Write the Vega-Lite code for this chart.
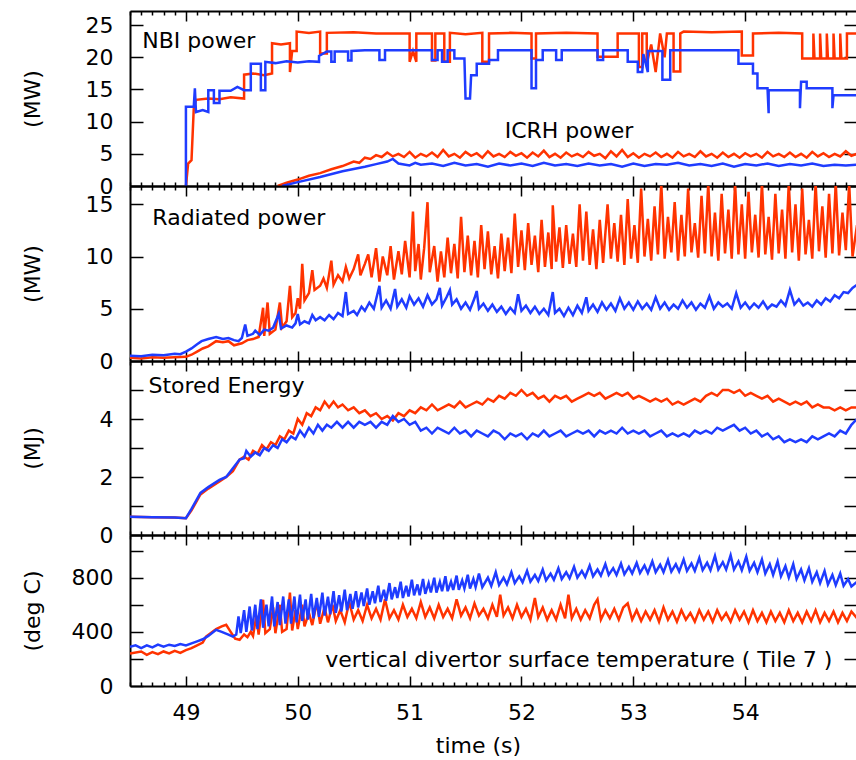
{
"$schema": "https://vega.github.io/schema/vega-lite/v6.json",
"padding": {"left": 21, "top": 10, "right": 0, "bottom": 0},
"bounds": "flush",
"spacing": 0,
"datasets": {
"n1r": [{"t":49.0,"v":0},{"t":49.02,"v":3.5},{"t":49.05,"v":4.0},{"t":49.07,"v":12},{"t":49.09,"v":13.4},{"t":49.2,"v":13.6},{"t":49.3,"v":13.5},{"t":49.4,"v":13.8},{"t":49.52,"v":13.6},{"t":49.52,"v":17.3},{"t":49.6,"v":17.5},{"t":49.7,"v":17.2},{"t":49.77,"v":17.5},{"t":49.77,"v":22.2},{"t":49.85,"v":22.0},{"t":49.93,"v":22.2},{"t":49.93,"v":17.7},{"t":49.95,"v":21.0},{"t":49.99,"v":21.0},{"t":49.99,"v":24.0},{"t":50.1,"v":23.8},{"t":50.2,"v":24.0},{"t":50.2,"v":20.6},{"t":50.26,"v":20.6},{"t":50.26,"v":23.8},{"t":50.5,"v":23.9},{"t":50.7,"v":23.7},{"t":51.0,"v":23.7},{"t":51.0,"v":19.3},{"t":51.03,"v":21.0},{"t":51.06,"v":19.3},{"t":51.06,"v":23.7},{"t":51.2,"v":23.7},{"t":51.2,"v":19.5},{"t":51.23,"v":19.5},{"t":51.23,"v":23.7},{"t":51.31,"v":23.7},{"t":51.31,"v":19.3},{"t":51.36,"v":19.3},{"t":51.36,"v":23.8},{"t":51.5,"v":23.6},{"t":51.65,"v":23.8},{"t":51.65,"v":19.3},{"t":51.71,"v":19.3},{"t":51.71,"v":23.7},{"t":51.9,"v":23.8},{"t":52.09,"v":23.7},{"t":52.09,"v":19.8},{"t":52.13,"v":19.8},{"t":52.13,"v":23.7},{"t":52.4,"v":23.8},{"t":52.68,"v":23.7},{"t":52.68,"v":20.1},{"t":52.86,"v":20.1},{"t":52.86,"v":23.7},{"t":53.05,"v":23.7},{"t":53.05,"v":18.5},{"t":53.08,"v":18.5},{"t":53.08,"v":23.7},{"t":53.12,"v":23.7},{"t":53.12,"v":19.0},{"t":53.16,"v":22},{"t":53.2,"v":17.7},{"t":53.24,"v":23.7},{"t":53.28,"v":20},{"t":53.3,"v":23.7},{"t":53.36,"v":23.7},{"t":53.36,"v":17.8},{"t":53.42,"v":17.8},{"t":53.42,"v":23.7},{"t":53.45,"v":24.0},{"t":53.7,"v":23.9},{"t":53.97,"v":24.0},{"t":53.97,"v":20.3},{"t":54.07,"v":20.3},{"t":54.07,"v":23.7},{"t":54.3,"v":23.8},{"t":54.51,"v":23.7},{"t":54.51,"v":19.8},{"t":54.61,"v":19.8},{"t":54.61,"v":23.7},{"t":54.62,"v":19.8},{"t":54.67,"v":19.8},{"t":54.67,"v":23.7},{"t":54.68,"v":19.8},{"t":54.73,"v":19.8},{"t":54.73,"v":23.7},{"t":54.74,"v":19.8},{"t":54.79,"v":19.8},{"t":54.79,"v":23.7},{"t":54.8,"v":19.8},{"t":54.85,"v":19.8},{"t":54.85,"v":23.7},{"t":54.86,"v":19.8},{"t":54.91,"v":19.8},{"t":54.91,"v":23.7},{"t":55.0,"v":23.7}],
"n1b": [{"t":49.0,"v":0},{"t":49.0,"v":12.3},{"t":49.07,"v":12.3},{"t":49.08,"v":15.2},{"t":49.09,"v":11.5},{"t":49.15,"v":11.8},{"t":49.2,"v":11.5},{"t":49.2,"v":14.9},{"t":49.25,"v":14.9},{"t":49.25,"v":12.9},{"t":49.3,"v":12.9},{"t":49.3,"v":14.8},{"t":49.4,"v":14.8},{"t":49.46,"v":15.4},{"t":49.52,"v":14.9},{"t":49.58,"v":14.9},{"t":49.58,"v":19.0},{"t":49.67,"v":19.0},{"t":49.67,"v":14.9},{"t":49.71,"v":14.9},{"t":49.71,"v":19.3},{"t":49.8,"v":19.1},{"t":49.9,"v":19.4},{"t":50.0,"v":19.2},{"t":50.1,"v":19.4},{"t":50.19,"v":19.3},{"t":50.19,"v":20.2},{"t":50.26,"v":20.9},{"t":50.3,"v":20.9},{"t":50.3,"v":19.3},{"t":50.33,"v":19.3},{"t":50.33,"v":20.9},{"t":50.45,"v":20.9},{"t":50.45,"v":19.5},{"t":50.48,"v":19.5},{"t":50.48,"v":21.0},{"t":50.6,"v":21.1},{"t":50.73,"v":21.1},{"t":50.73,"v":19.6},{"t":50.78,"v":19.6},{"t":50.78,"v":21.1},{"t":51.0,"v":21.1},{"t":51.2,"v":21.1},{"t":51.2,"v":19.6},{"t":51.25,"v":19.6},{"t":51.25,"v":21.1},{"t":51.29,"v":21.1},{"t":51.29,"v":19.3},{"t":51.34,"v":19.3},{"t":51.34,"v":21.1},{"t":51.4,"v":21.1},{"t":51.4,"v":19.8},{"t":51.49,"v":19.8},{"t":51.5,"v":13.6},{"t":51.54,"v":13.6},{"t":51.55,"v":17.2},{"t":51.6,"v":17.2},{"t":51.6,"v":19.0},{"t":51.71,"v":19.0},{"t":51.71,"v":19.6},{"t":51.79,"v":19.6},{"t":51.79,"v":21.1},{"t":52.0,"v":21.1},{"t":52.09,"v":21.1},{"t":52.09,"v":15.2},{"t":52.13,"v":15.2},{"t":52.13,"v":19.6},{"t":52.19,"v":19.6},{"t":52.19,"v":21.1},{"t":52.31,"v":21.1},{"t":52.31,"v":19.6},{"t":52.36,"v":19.6},{"t":52.36,"v":21.1},{"t":52.68,"v":21.1},{"t":52.68,"v":19.6},{"t":52.73,"v":19.6},{"t":52.73,"v":21.1},{"t":52.95,"v":21.1},{"t":52.95,"v":19.3},{"t":53.04,"v":19.3},{"t":53.04,"v":17.7},{"t":53.08,"v":17.7},{"t":53.09,"v":20.5},{"t":53.13,"v":17.7},{"t":53.13,"v":21.0},{"t":53.26,"v":21.0},{"t":53.26,"v":16.5},{"t":53.33,"v":16.5},{"t":53.33,"v":21.1},{"t":53.6,"v":21.1},{"t":53.94,"v":21.1},{"t":53.94,"v":19.0},{"t":54.07,"v":19.0},{"t":54.07,"v":17.5},{"t":54.11,"v":17.5},{"t":54.11,"v":15.2},{"t":54.2,"v":15.2},{"t":54.21,"v":11.3},{"t":54.21,"v":14.9},{"t":54.35,"v":14.9},{"t":54.49,"v":14.9},{"t":54.49,"v":12.1},{"t":54.5,"v":16.2},{"t":54.55,"v":16.2},{"t":54.55,"v":15.2},{"t":54.78,"v":15.2},{"t":54.78,"v":12.1},{"t":54.79,"v":14.1},{"t":54.98,"v":14.1},{"t":55.0,"v":14.1}],
"i1r": [{"t":49.82,"v":0},{"t":49.9,"v":0.5},{"t":50.0,"v":1.0},{"t":50.1,"v":1.6},{"t":50.2,"v":2.0},{"t":50.3,"v":2.6},{"t":50.4,"v":3.1},{"t":50.5,"v":3.8},{"t":50.55,"v":3.6},{"t":50.6,"v":4.4},{"t":50.65,"v":4.2},{"t":50.7,"v":4.8},{"t":50.75,"v":4.5},{"t":50.8,"v":5.2},{"t":50.85,"v":4.6},{"t":50.9,"v":5.0},{"t":50.95,"v":4.5},{"t":51.0,"v":5.3},{"t":51.05,"v":4.4},{"t":51.1,"v":5.0},{"t":51.15,"v":4.6},{"t":51.2,"v":5.2},{"t":51.25,"v":4.5},{"t":51.3,"v":5.6},{"t":51.35,"v":4.6},{"t":51.4,"v":5.0},{"t":51.45,"v":4.4},{"t":51.5,"v":5.3},{"t":51.55,"v":4.7},{"t":51.6,"v":5.1},{"t":51.65,"v":4.4},{"t":51.7,"v":5.4},{"t":51.75,"v":4.6},{"t":51.8,"v":5.0},{"t":51.85,"v":4.5},{"t":51.9,"v":5.3},{"t":51.95,"v":4.7},{"t":52.0,"v":5.1},{"t":52.05,"v":4.4},{"t":52.1,"v":5.2},{"t":52.15,"v":4.6},{"t":52.2,"v":5.5},{"t":52.25,"v":4.5},{"t":52.3,"v":5.0},{"t":52.35,"v":4.4},{"t":52.4,"v":5.2},{"t":52.45,"v":4.6},{"t":52.5,"v":5.0},{"t":52.55,"v":4.5},{"t":52.6,"v":5.3},{"t":52.65,"v":4.7},{"t":52.7,"v":5.0},{"t":52.75,"v":4.3},{"t":52.8,"v":5.4},{"t":52.85,"v":4.6},{"t":52.9,"v":5.6},{"t":52.95,"v":4.5},{"t":53.0,"v":5.1},{"t":53.05,"v":4.4},{"t":53.1,"v":5.0},{"t":53.15,"v":4.6},{"t":53.2,"v":5.2},{"t":53.25,"v":4.5},{"t":53.3,"v":5.0},{"t":53.35,"v":4.4},{"t":53.4,"v":5.3},{"t":53.45,"v":4.6},{"t":53.5,"v":5.0},{"t":53.55,"v":4.5},{"t":53.6,"v":5.4},{"t":53.65,"v":4.6},{"t":53.7,"v":5.0},{"t":53.75,"v":4.4},{"t":53.8,"v":5.2},{"t":53.85,"v":4.5},{"t":53.9,"v":5.0},{"t":53.95,"v":4.4},{"t":54.0,"v":5.1},{"t":54.05,"v":4.6},{"t":54.1,"v":5.0},{"t":54.15,"v":4.4},{"t":54.2,"v":5.3},{"t":54.25,"v":4.6},{"t":54.3,"v":5.0},{"t":54.35,"v":4.5},{"t":54.4,"v":5.2},{"t":54.45,"v":4.5},{"t":54.5,"v":5.0},{"t":54.55,"v":4.4},{"t":54.6,"v":5.3},{"t":54.65,"v":4.6},{"t":54.7,"v":5.1},{"t":54.75,"v":4.5},{"t":54.8,"v":5.0},{"t":54.85,"v":4.6},{"t":54.9,"v":5.4},{"t":54.95,"v":4.7},{"t":55.0,"v":5.0}],
"i1b": [{"t":49.86,"v":0},{"t":50.0,"v":0.6},{"t":50.2,"v":1.4},{"t":50.4,"v":2.3},{"t":50.6,"v":3.0},{"t":50.7,"v":3.4},{"t":50.8,"v":3.8},{"t":50.85,"v":4.2},{"t":50.9,"v":3.5},{"t":51.0,"v":3.2},{"t":51.05,"v":3.6},{"t":51.1,"v":3.3},{"t":51.2,"v":3.5},{"t":51.3,"v":3.1},{"t":51.4,"v":3.6},{"t":51.5,"v":3.2},{"t":51.6,"v":3.4},{"t":51.7,"v":3.0},{"t":51.8,"v":3.5},{"t":51.9,"v":3.2},{"t":52.0,"v":3.5},{"t":52.1,"v":3.1},{"t":52.2,"v":3.6},{"t":52.3,"v":3.2},{"t":52.4,"v":3.4},{"t":52.5,"v":3.1},{"t":52.6,"v":3.5},{"t":52.7,"v":3.2},{"t":52.8,"v":3.4},{"t":52.9,"v":3.0},{"t":53.0,"v":3.5},{"t":53.1,"v":3.1},{"t":53.2,"v":3.4},{"t":53.3,"v":3.3},{"t":53.4,"v":3.6},{"t":53.5,"v":3.2},{"t":53.6,"v":3.4},{"t":53.7,"v":3.1},{"t":53.8,"v":3.5},{"t":53.9,"v":3.0},{"t":54.0,"v":3.4},{"t":54.1,"v":3.2},{"t":54.2,"v":3.5},{"t":54.3,"v":3.1},{"t":54.4,"v":3.4},{"t":54.5,"v":3.2},{"t":54.6,"v":3.5},{"t":54.7,"v":3.1},{"t":54.8,"v":3.3},{"t":54.9,"v":3.2},{"t":55.0,"v":3.3}],
"r2r": [{"t":48.5,"v":0.3},{"t":48.6,"v":0.25},{"t":48.7,"v":0.35},{"t":48.8,"v":0.3},{"t":48.9,"v":0.35},{"t":49.0,"v":0.4},{"t":49.05,"v":0.6},{"t":49.1,"v":0.9},{"t":49.15,"v":1.2},{"t":49.2,"v":1.4},{"t":49.27,"v":1.9},{"t":49.33,"v":1.8},{"t":49.38,"v":1.9},{"t":49.43,"v":1.5},{"t":49.5,"v":1.7},{"t":49.55,"v":2.0},{"t":49.6,"v":2.1},{"t":49.65,"v":2.3},{"t":49.69,"v":5.1},{"t":49.7,"v":2.4},{"t":49.73,"v":5.6},{"t":49.75,"v":2.6},{"t":49.8,"v":3.0},{"t":49.84,"v":5.6},{"t":49.86,"v":3.2},{"t":49.9,"v":3.8},{"t":49.93,"v":7.2},{"t":49.95,"v":4.2},{"t":49.98,"v":4.6},{"t":50.0,"v":6.0},{"t":50.02,"v":5.0},{"t":50.04,"v":9.3},{"t":50.06,"v":5.8},{"t":50.1,"v":6.5},{"t":50.13,"v":8.7},{"t":50.15,"v":6.8},{"t":50.2,"v":7.2},{"t":50.23,"v":7.9},{"t":50.26,"v":7.0},{"t":50.3,"v":9.6},{"t":50.32,"v":7.3},{"t":50.36,"v":8.2},{"t":50.4,"v":7.6},{"t":50.43,"v":9.0},{"t":50.46,"v":7.9},{"t":50.5,"v":8.8},{"t":50.54,"v":10.2},{"t":50.56,"v":8.2},{"t":50.6,"v":9.3},{"t":50.63,"v":10.2},{"t":50.66,"v":8.0},{"t":50.7,"v":10.8},{"t":50.73,"v":7.6},{"t":50.76,"v":10.0},{"t":50.8,"v":8.2},{"t":50.83,"v":11.0},{"t":50.86,"v":7.8},{"t":50.9,"v":10.5},{"t":50.93,"v":8.3},{"t":50.96,"v":11.5},{"t":51.0,"v":8.0},{"t":51.03,"v":14.3},{"t":51.05,"v":8.6},{"t":51.08,"v":11.2},{"t":51.1,"v":7.8},{"t":51.13,"v":10.8},{"t":51.16,"v":15.2},{"t":51.18,"v":8.5},{"t":51.22,"v":11.0},{"t":51.25,"v":7.6},{"t":51.28,"v":10.5},{"t":51.31,"v":8.0},{"t":51.34,"v":11.8},{"t":51.37,"v":8.4},{"t":51.4,"v":11.2},{"t":51.43,"v":7.9},{"t":51.46,"v":13.8},{"t":51.49,"v":8.5},{"t":51.52,"v":12.0},{"t":51.55,"v":8.2},{"t":51.58,"v":11.5},{"t":51.61,"v":8.0},{"t":51.64,"v":13.0},{"t":51.67,"v":8.8},{"t":51.7,"v":12.4},{"t":51.73,"v":8.3},{"t":51.76,"v":11.0},{"t":51.79,"v":7.9},{"t":51.82,"v":12.2},{"t":51.85,"v":8.6},{"t":51.88,"v":11.8},{"t":51.91,"v":8.4},{"t":51.94,"v":14.1},{"t":51.97,"v":9.0},{"t":52.0,"v":12.5},{"t":52.03,"v":8.7},{"t":52.06,"v":13.2},{"t":52.09,"v":9.2},{"t":52.12,"v":12.0},{"t":52.15,"v":8.5},{"t":52.18,"v":13.5},{"t":52.21,"v":9.0},{"t":52.24,"v":12.3},{"t":52.27,"v":8.8},{"t":52.28,"v":14.9},{"t":52.31,"v":9.5},{"t":52.34,"v":12.8},{"t":52.37,"v":8.9},{"t":52.4,"v":13.0},{"t":52.43,"v":9.3},{"t":52.46,"v":12.2},{"t":52.49,"v":9.0},{"t":52.52,"v":15.0},{"t":52.55,"v":9.6},{"t":52.58,"v":14.3},{"t":52.61,"v":9.2},{"t":52.64,"v":12.6},{"t":52.67,"v":8.8},{"t":52.7,"v":13.5},{"t":52.73,"v":9.4},{"t":52.77,"v":15.0},{"t":52.8,"v":9.8},{"t":52.83,"v":13.2},{"t":52.86,"v":9.5},{"t":52.89,"v":14.0},{"t":52.92,"v":9.2},{"t":52.95,"v":15.5},{"t":52.98,"v":9.8},{"t":53.01,"v":13.0},{"t":53.04,"v":9.4},{"t":53.07,"v":16.5},{"t":53.1,"v":10.0},{"t":53.13,"v":13.6},{"t":53.16,"v":9.6},{"t":53.19,"v":14.8},{"t":53.22,"v":10.2},{"t":53.25,"v":17},{"t":53.28,"v":9.8},{"t":53.31,"v":13.8},{"t":53.34,"v":10.4},{"t":53.37,"v":15.2},{"t":53.4,"v":9.6},{"t":53.43,"v":14.0},{"t":53.46,"v":10.0},{"t":53.49,"v":16.5},{"t":53.52,"v":10.4},{"t":53.55,"v":13.2},{"t":53.58,"v":9.9},{"t":53.61,"v":15.8},{"t":53.64,"v":10.3},{"t":53.67,"v":17},{"t":53.7,"v":10.0},{"t":53.73,"v":14.2},{"t":53.76,"v":9.6},{"t":53.79,"v":16.0},{"t":53.82,"v":10.3},{"t":53.85,"v":14.5},{"t":53.88,"v":9.8},{"t":53.91,"v":17},{"t":53.94,"v":10.2},{"t":53.97,"v":15.0},{"t":54.0,"v":9.8},{"t":54.03,"v":16.2},{"t":54.06,"v":10.4},{"t":54.09,"v":14.0},{"t":54.12,"v":9.9},{"t":54.15,"v":17},{"t":54.18,"v":10.2},{"t":54.21,"v":13.8},{"t":54.24,"v":9.7},{"t":54.27,"v":16.0},{"t":54.3,"v":10.3},{"t":54.33,"v":14.5},{"t":54.36,"v":9.8},{"t":54.39,"v":17},{"t":54.42,"v":10.4},{"t":54.45,"v":15.0},{"t":54.48,"v":9.6},{"t":54.51,"v":16.5},{"t":54.54,"v":10.2},{"t":54.57,"v":13.5},{"t":54.6,"v":9.8},{"t":54.63,"v":17},{"t":54.66,"v":10.5},{"t":54.69,"v":14.8},{"t":54.72,"v":9.9},{"t":54.75,"v":16.0},{"t":54.78,"v":10.3},{"t":54.81,"v":17},{"t":54.84,"v":10.1},{"t":54.87,"v":14.2},{"t":54.9,"v":10.6},{"t":54.93,"v":17},{"t":54.96,"v":10.0},{"t":55.0,"v":13.0}],
"r2b": [{"t":48.5,"v":0.5},{"t":48.6,"v":0.45},{"t":48.7,"v":0.6},{"t":48.8,"v":0.55},{"t":48.9,"v":0.7},{"t":48.95,"v":0.65},{"t":49.0,"v":0.9},{"t":49.05,"v":1.2},{"t":49.1,"v":1.6},{"t":49.14,"v":1.9},{"t":49.2,"v":2.1},{"t":49.27,"v":2.3},{"t":49.33,"v":2.1},{"t":49.38,"v":2.2},{"t":49.43,"v":2.0},{"t":49.47,"v":1.9},{"t":49.5,"v":2.2},{"t":49.53,"v":3.5},{"t":49.55,"v":2.4},{"t":49.6,"v":2.6},{"t":49.62,"v":2.9},{"t":49.66,"v":2.5},{"t":49.7,"v":3.0},{"t":49.74,"v":2.9},{"t":49.78,"v":3.2},{"t":49.83,"v":4.5},{"t":49.85,"v":3.1},{"t":49.9,"v":3.4},{"t":49.95,"v":3.2},{"t":49.98,"v":3.6},{"t":50.0,"v":4.5},{"t":50.02,"v":3.5},{"t":50.06,"v":3.8},{"t":50.1,"v":3.6},{"t":50.13,"v":4.4},{"t":50.16,"v":3.9},{"t":50.2,"v":4.2},{"t":50.24,"v":3.9},{"t":50.28,"v":4.4},{"t":50.32,"v":4.0},{"t":50.36,"v":4.6},{"t":50.4,"v":4.3},{"t":50.43,"v":6.6},{"t":50.45,"v":4.5},{"t":50.5,"v":4.8},{"t":50.53,"v":4.4},{"t":50.57,"v":5.2},{"t":50.6,"v":4.8},{"t":50.64,"v":5.6},{"t":50.68,"v":5.0},{"t":50.73,"v":7.2},{"t":50.75,"v":5.1},{"t":50.79,"v":5.8},{"t":50.83,"v":5.0},{"t":50.87,"v":6.9},{"t":50.89,"v":5.2},{"t":50.93,"v":5.9},{"t":50.97,"v":5.1},{"t":51.0,"v":6.2},{"t":51.04,"v":5.4},{"t":51.08,"v":6.0},{"t":51.12,"v":5.2},{"t":51.16,"v":6.3},{"t":51.2,"v":5.4},{"t":51.24,"v":5.9},{"t":51.27,"v":7.0},{"t":51.29,"v":5.3},{"t":51.33,"v":6.1},{"t":51.36,"v":6.8},{"t":51.38,"v":5.4},{"t":51.42,"v":5.9},{"t":51.46,"v":5.0},{"t":51.5,"v":5.6},{"t":51.54,"v":4.9},{"t":51.58,"v":6.0},{"t":51.6,"v":6.7},{"t":51.62,"v":5.0},{"t":51.66,"v":5.5},{"t":51.7,"v":4.8},{"t":51.74,"v":5.4},{"t":51.78,"v":4.7},{"t":51.82,"v":5.2},{"t":51.86,"v":4.5},{"t":51.9,"v":5.1},{"t":51.94,"v":4.6},{"t":51.97,"v":6.4},{"t":52.0,"v":4.8},{"t":52.04,"v":5.3},{"t":52.08,"v":4.6},{"t":52.12,"v":5.2},{"t":52.16,"v":4.5},{"t":52.2,"v":5.0},{"t":52.24,"v":4.4},{"t":52.28,"v":6.6},{"t":52.3,"v":4.6},{"t":52.34,"v":5.0},{"t":52.38,"v":4.3},{"t":52.42,"v":5.1},{"t":52.46,"v":4.4},{"t":52.5,"v":5.3},{"t":52.54,"v":4.6},{"t":52.58,"v":6.1},{"t":52.6,"v":4.8},{"t":52.64,"v":5.4},{"t":52.68,"v":4.7},{"t":52.72,"v":5.6},{"t":52.76,"v":4.9},{"t":52.8,"v":5.5},{"t":52.84,"v":4.8},{"t":52.88,"v":6.0},{"t":52.92,"v":5.0},{"t":52.96,"v":5.6},{"t":53.0,"v":4.9},{"t":53.04,"v":5.7},{"t":53.08,"v":5.0},{"t":53.12,"v":5.5},{"t":53.16,"v":4.9},{"t":53.2,"v":6.1},{"t":53.24,"v":5.0},{"t":53.28,"v":5.6},{"t":53.32,"v":4.9},{"t":53.36,"v":5.4},{"t":53.4,"v":5.0},{"t":53.44,"v":5.8},{"t":53.48,"v":5.1},{"t":53.52,"v":5.6},{"t":53.56,"v":4.9},{"t":53.6,"v":5.5},{"t":53.64,"v":5.1},{"t":53.68,"v":6.2},{"t":53.72,"v":5.0},{"t":53.76,"v":5.6},{"t":53.8,"v":5.2},{"t":53.84,"v":5.5},{"t":53.88,"v":5.0},{"t":53.92,"v":6.5},{"t":53.96,"v":5.1},{"t":54.0,"v":5.6},{"t":54.04,"v":5.0},{"t":54.08,"v":5.5},{"t":54.12,"v":5.1},{"t":54.16,"v":5.7},{"t":54.2,"v":5.0},{"t":54.24,"v":5.4},{"t":54.28,"v":5.2},{"t":54.32,"v":5.8},{"t":54.36,"v":5.3},{"t":54.4,"v":6.8},{"t":54.44,"v":5.4},{"t":54.48,"v":5.9},{"t":54.52,"v":5.3},{"t":54.56,"v":5.6},{"t":54.6,"v":5.2},{"t":54.64,"v":5.8},{"t":54.68,"v":5.4},{"t":54.72,"v":6.0},{"t":54.76,"v":5.7},{"t":54.8,"v":6.3},{"t":54.84,"v":6.0},{"t":54.88,"v":6.6},{"t":54.92,"v":6.5},{"t":54.96,"v":7.0},{"t":55.0,"v":7.3}],
"s3r": [{"t":48.5,"v":0.63},{"t":48.7,"v":0.61},{"t":48.9,"v":0.6},{"t":49.0,"v":0.58},{"t":49.05,"v":0.85},{"t":49.13,"v":1.4},{"t":49.2,"v":1.6},{"t":49.3,"v":1.85},{"t":49.36,"v":2.0},{"t":49.42,"v":2.2},{"t":49.48,"v":2.6},{"t":49.52,"v":2.7},{"t":49.56,"v":2.6},{"t":49.6,"v":2.9},{"t":49.64,"v":2.8},{"t":49.68,"v":3.1},{"t":49.72,"v":2.95},{"t":49.76,"v":3.2},{"t":49.8,"v":3.1},{"t":49.84,"v":3.4},{"t":49.88,"v":3.3},{"t":49.92,"v":3.6},{"t":49.96,"v":3.5},{"t":50.0,"v":4.0},{"t":50.04,"v":3.8},{"t":50.08,"v":4.2},{"t":50.12,"v":4.1},{"t":50.16,"v":4.4},{"t":50.2,"v":4.3},{"t":50.24,"v":4.6},{"t":50.28,"v":4.4},{"t":50.32,"v":4.6},{"t":50.36,"v":4.4},{"t":50.4,"v":4.5},{"t":50.45,"v":4.3},{"t":50.5,"v":4.4},{"t":50.55,"v":4.2},{"t":50.6,"v":4.3},{"t":50.65,"v":4.1},{"t":50.7,"v":4.2},{"t":50.75,"v":4.0},{"t":50.8,"v":4.1},{"t":50.85,"v":3.95},{"t":50.9,"v":4.2},{"t":50.95,"v":4.1},{"t":51.0,"v":4.3},{"t":51.05,"v":4.2},{"t":51.1,"v":4.4},{"t":51.15,"v":4.3},{"t":51.2,"v":4.5},{"t":51.25,"v":4.3},{"t":51.3,"v":4.4},{"t":51.35,"v":4.5},{"t":51.4,"v":4.4},{"t":51.45,"v":4.6},{"t":51.5,"v":4.4},{"t":51.55,"v":4.5},{"t":51.6,"v":4.6},{"t":51.65,"v":4.5},{"t":51.7,"v":4.7},{"t":51.75,"v":4.6},{"t":51.8,"v":4.8},{"t":51.85,"v":4.7},{"t":51.9,"v":4.9},{"t":51.95,"v":4.8},{"t":52.0,"v":5.0},{"t":52.05,"v":4.8},{"t":52.1,"v":4.9},{"t":52.15,"v":4.7},{"t":52.2,"v":4.8},{"t":52.25,"v":4.6},{"t":52.3,"v":4.8},{"t":52.35,"v":4.7},{"t":52.4,"v":4.8},{"t":52.45,"v":4.6},{"t":52.5,"v":4.7},{"t":52.55,"v":4.8},{"t":52.6,"v":4.9},{"t":52.65,"v":4.8},{"t":52.7,"v":4.9},{"t":52.75,"v":4.7},{"t":52.8,"v":4.8},{"t":52.85,"v":4.9},{"t":52.9,"v":4.8},{"t":52.95,"v":4.9},{"t":53.0,"v":4.7},{"t":53.05,"v":4.8},{"t":53.1,"v":4.7},{"t":53.15,"v":4.6},{"t":53.2,"v":4.7},{"t":53.25,"v":4.6},{"t":53.3,"v":4.7},{"t":53.35,"v":4.5},{"t":53.4,"v":4.6},{"t":53.45,"v":4.5},{"t":53.5,"v":4.6},{"t":53.55,"v":4.7},{"t":53.6,"v":4.6},{"t":53.65,"v":4.8},{"t":53.7,"v":4.9},{"t":53.75,"v":4.8},{"t":53.8,"v":5.0},{"t":53.85,"v":5.0},{"t":53.9,"v":4.9},{"t":53.95,"v":5.0},{"t":54.0,"v":4.8},{"t":54.05,"v":4.9},{"t":54.1,"v":4.8},{"t":54.15,"v":4.7},{"t":54.2,"v":4.8},{"t":54.25,"v":4.6},{"t":54.3,"v":4.7},{"t":54.35,"v":4.6},{"t":54.4,"v":4.5},{"t":54.45,"v":4.6},{"t":54.5,"v":4.5},{"t":54.55,"v":4.6},{"t":54.6,"v":4.4},{"t":54.65,"v":4.5},{"t":54.7,"v":4.4},{"t":54.75,"v":4.4},{"t":54.8,"v":4.3},{"t":54.85,"v":4.4},{"t":54.9,"v":4.3},{"t":54.95,"v":4.4},{"t":55.0,"v":4.4}],
"s3b": [{"t":48.5,"v":0.63},{"t":48.7,"v":0.61},{"t":48.9,"v":0.6},{"t":49.0,"v":0.58},{"t":49.05,"v":0.9},{"t":49.13,"v":1.45},{"t":49.2,"v":1.65},{"t":49.3,"v":1.9},{"t":49.36,"v":2.0},{"t":49.42,"v":2.3},{"t":49.48,"v":2.6},{"t":49.52,"v":2.65},{"t":49.54,"v":2.9},{"t":49.58,"v":2.7},{"t":49.62,"v":2.85},{"t":49.66,"v":2.75},{"t":49.7,"v":3.0},{"t":49.74,"v":2.9},{"t":49.78,"v":3.1},{"t":49.82,"v":3.0},{"t":49.86,"v":3.3},{"t":49.9,"v":3.2},{"t":49.94,"v":3.4},{"t":49.98,"v":3.3},{"t":50.02,"v":3.6},{"t":50.06,"v":3.4},{"t":50.1,"v":3.7},{"t":50.14,"v":3.5},{"t":50.18,"v":3.8},{"t":50.22,"v":3.6},{"t":50.26,"v":3.8},{"t":50.3,"v":3.7},{"t":50.35,"v":3.9},{"t":50.4,"v":3.7},{"t":50.45,"v":3.9},{"t":50.5,"v":3.7},{"t":50.55,"v":3.9},{"t":50.6,"v":3.8},{"t":50.65,"v":3.9},{"t":50.7,"v":3.7},{"t":50.75,"v":3.9},{"t":50.8,"v":3.8},{"t":50.85,"v":4.1},{"t":50.9,"v":3.9},{"t":50.95,"v":4.0},{"t":51.0,"v":3.8},{"t":51.05,"v":3.9},{"t":51.1,"v":3.6},{"t":51.15,"v":3.7},{"t":51.2,"v":3.5},{"t":51.25,"v":3.7},{"t":51.3,"v":3.6},{"t":51.35,"v":3.5},{"t":51.4,"v":3.7},{"t":51.45,"v":3.5},{"t":51.5,"v":3.6},{"t":51.55,"v":3.4},{"t":51.6,"v":3.6},{"t":51.65,"v":3.5},{"t":51.7,"v":3.4},{"t":51.75,"v":3.6},{"t":51.8,"v":3.5},{"t":51.85,"v":3.3},{"t":51.9,"v":3.5},{"t":51.95,"v":3.4},{"t":52.0,"v":3.5},{"t":52.05,"v":3.3},{"t":52.1,"v":3.5},{"t":52.15,"v":3.4},{"t":52.2,"v":3.6},{"t":52.25,"v":3.4},{"t":52.3,"v":3.5},{"t":52.35,"v":3.6},{"t":52.4,"v":3.4},{"t":52.45,"v":3.5},{"t":52.5,"v":3.6},{"t":52.55,"v":3.5},{"t":52.6,"v":3.6},{"t":52.65,"v":3.4},{"t":52.7,"v":3.6},{"t":52.75,"v":3.5},{"t":52.8,"v":3.6},{"t":52.85,"v":3.5},{"t":52.9,"v":3.7},{"t":52.95,"v":3.5},{"t":53.0,"v":3.6},{"t":53.05,"v":3.5},{"t":53.1,"v":3.6},{"t":53.15,"v":3.4},{"t":53.2,"v":3.5},{"t":53.25,"v":3.6},{"t":53.3,"v":3.4},{"t":53.35,"v":3.5},{"t":53.4,"v":3.4},{"t":53.45,"v":3.5},{"t":53.5,"v":3.4},{"t":53.55,"v":3.6},{"t":53.6,"v":3.5},{"t":53.65,"v":3.6},{"t":53.7,"v":3.5},{"t":53.75,"v":3.7},{"t":53.8,"v":3.6},{"t":53.85,"v":3.7},{"t":53.9,"v":3.8},{"t":53.95,"v":3.6},{"t":54.0,"v":3.7},{"t":54.05,"v":3.5},{"t":54.1,"v":3.6},{"t":54.15,"v":3.4},{"t":54.2,"v":3.5},{"t":54.25,"v":3.3},{"t":54.3,"v":3.4},{"t":54.35,"v":3.2},{"t":54.4,"v":3.3},{"t":54.45,"v":3.2},{"t":54.5,"v":3.3},{"t":54.55,"v":3.2},{"t":54.6,"v":3.4},{"t":54.65,"v":3.3},{"t":54.7,"v":3.4},{"t":54.75,"v":3.5},{"t":54.8,"v":3.4},{"t":54.85,"v":3.6},{"t":54.9,"v":3.5},{"t":54.95,"v":3.8},{"t":55.0,"v":4.0}],
"t4r": [{"t":48.5,"v":240},{"t":48.6,"v":255},{"t":48.65,"v":230},{"t":48.7,"v":250},{"t":48.75,"v":235},{"t":48.8,"v":255},{"t":48.85,"v":240},{"t":48.9,"v":260},{"t":48.95,"v":245},{"t":49.0,"v":265},{"t":49.05,"v":280},{"t":49.1,"v":300},{"t":49.15,"v":320},{"t":49.18,"v":365},{"t":49.22,"v":390},{"t":49.27,"v":420},{"t":49.32,"v":440},{"t":49.36,"v":452},{"t":49.4,"v":400},{"t":49.44,"v":350},{"t":49.48,"v":341},{"t":49.52,"v":380},{"t":49.55,"v":360},{"t":49.58,"v":400},{"t":49.6,"v":370},{"t":49.63,"v":520},{"t":49.65,"v":380},{"t":49.69,"v":637},{"t":49.71,"v":390},{"t":49.75,"v":420},{"t":49.78,"v":580},{"t":49.8,"v":390},{"t":49.84,"v":600},{"t":49.86,"v":400},{"t":49.9,"v":420},{"t":49.93,"v":689},{"t":49.95,"v":410},{"t":49.98,"v":560},{"t":50.0,"v":420},{"t":50.04,"v":600},{"t":50.06,"v":440},{"t":50.1,"v":540},{"t":50.13,"v":450},{"t":50.17,"v":620},{"t":50.2,"v":460},{"t":50.24,"v":580},{"t":50.27,"v":470},{"t":50.31,"v":600},{"t":50.34,"v":480},{"t":50.38,"v":560},{"t":50.42,"v":470},{"t":50.46,"v":620},{"t":50.5,"v":490},{"t":50.54,"v":560},{"t":50.58,"v":480},{"t":50.62,"v":600},{"t":50.66,"v":500},{"t":50.7,"v":570},{"t":50.74,"v":490},{"t":50.78,"v":640},{"t":50.82,"v":500},{"t":50.86,"v":560},{"t":50.9,"v":490},{"t":50.94,"v":600},{"t":50.98,"v":510},{"t":51.02,"v":570},{"t":51.06,"v":500},{"t":51.1,"v":620},{"t":51.14,"v":510},{"t":51.18,"v":580},{"t":51.22,"v":500},{"t":51.26,"v":600},{"t":51.3,"v":510},{"t":51.34,"v":570},{"t":51.38,"v":500},{"t":51.42,"v":640},{"t":51.46,"v":520},{"t":51.5,"v":580},{"t":51.54,"v":500},{"t":51.58,"v":610},{"t":51.62,"v":520},{"t":51.66,"v":570},{"t":51.7,"v":500},{"t":51.74,"v":600},{"t":51.78,"v":510},{"t":51.81,"v":674},{"t":51.84,"v":520},{"t":51.88,"v":580},{"t":51.92,"v":500},{"t":51.96,"v":600},{"t":52.0,"v":510},{"t":52.04,"v":570},{"t":52.08,"v":490},{"t":52.12,"v":650},{"t":52.15,"v":510},{"t":52.19,"v":580},{"t":52.23,"v":490},{"t":52.27,"v":560},{"t":52.31,"v":490},{"t":52.35,"v":600},{"t":52.39,"v":500},{"t":52.42,"v":674},{"t":52.45,"v":500},{"t":52.49,"v":570},{"t":52.53,"v":490},{"t":52.57,"v":560},{"t":52.61,"v":500},{"t":52.65,"v":600},{"t":52.68,"v":640},{"t":52.71,"v":490},{"t":52.75,"v":560},{"t":52.79,"v":500},{"t":52.83,"v":570},{"t":52.87,"v":490},{"t":52.91,"v":580},{"t":52.95,"v":610},{"t":52.99,"v":490},{"t":53.03,"v":560},{"t":53.07,"v":480},{"t":53.11,"v":550},{"t":53.15,"v":490},{"t":53.19,"v":560},{"t":53.23,"v":475},{"t":53.27,"v":580},{"t":53.31,"v":490},{"t":53.35,"v":550},{"t":53.39,"v":475},{"t":53.43,"v":560},{"t":53.47,"v":490},{"t":53.51,"v":540},{"t":53.55,"v":475},{"t":53.59,"v":560},{"t":53.63,"v":490},{"t":53.67,"v":550},{"t":53.71,"v":475},{"t":53.75,"v":560},{"t":53.79,"v":490},{"t":53.83,"v":540},{"t":53.87,"v":475},{"t":53.91,"v":560},{"t":53.95,"v":490},{"t":53.99,"v":550},{"t":54.03,"v":470},{"t":54.07,"v":560},{"t":54.11,"v":480},{"t":54.15,"v":540},{"t":54.19,"v":470},{"t":54.23,"v":550},{"t":54.27,"v":480},{"t":54.31,"v":540},{"t":54.35,"v":470},{"t":54.39,"v":560},{"t":54.43,"v":480},{"t":54.47,"v":540},{"t":54.51,"v":470},{"t":54.55,"v":550},{"t":54.59,"v":480},{"t":54.63,"v":560},{"t":54.67,"v":470},{"t":54.71,"v":540},{"t":54.75,"v":480},{"t":54.79,"v":550},{"t":54.83,"v":470},{"t":54.87,"v":540},{"t":54.91,"v":480},{"t":54.95,"v":550},{"t":55.0,"v":500}],
"t4b": [{"t":48.5,"v":290},{"t":48.55,"v":300},{"t":48.6,"v":280},{"t":48.65,"v":300},{"t":48.7,"v":285},{"t":48.75,"v":305},{"t":48.8,"v":290},{"t":48.85,"v":305},{"t":48.9,"v":295},{"t":48.95,"v":310},{"t":49.0,"v":300},{"t":49.05,"v":315},{"t":49.1,"v":330},{"t":49.15,"v":345},{"t":49.2,"v":370},{"t":49.27,"v":415},{"t":49.32,"v":400},{"t":49.38,"v":380},{"t":49.42,"v":365},{"t":49.45,"v":380},{"t":49.47,"v":513},{"t":49.49,"v":390},{"t":49.52,"v":560},{"t":49.54,"v":400},{"t":49.57,"v":587},{"t":49.59,"v":410},{"t":49.62,"v":600},{"t":49.64,"v":420},{"t":49.67,"v":640},{"t":49.69,"v":430},{"t":49.72,"v":600},{"t":49.74,"v":440},{"t":49.77,"v":661},{"t":49.79,"v":440},{"t":49.82,"v":620},{"t":49.84,"v":450},{"t":49.87,"v":661},{"t":49.89,"v":460},{"t":49.92,"v":640},{"t":49.94,"v":460},{"t":49.97,"v":661},{"t":49.99,"v":470},{"t":50.02,"v":674},{"t":50.04,"v":480},{"t":50.07,"v":640},{"t":50.09,"v":490},{"t":50.12,"v":680},{"t":50.14,"v":500},{"t":50.17,"v":650},{"t":50.19,"v":510},{"t":50.22,"v":690},{"t":50.24,"v":520},{"t":50.27,"v":660},{"t":50.29,"v":530},{"t":50.32,"v":700},{"t":50.34,"v":540},{"t":50.37,"v":670},{"t":50.39,"v":550},{"t":50.42,"v":711},{"t":50.44,"v":560},{"t":50.47,"v":680},{"t":50.49,"v":570},{"t":50.52,"v":700},{"t":50.54,"v":580},{"t":50.57,"v":690},{"t":50.59,"v":590},{"t":50.62,"v":720},{"t":50.64,"v":600},{"t":50.67,"v":700},{"t":50.69,"v":610},{"t":50.72,"v":740},{"t":50.74,"v":620},{"t":50.77,"v":710},{"t":50.79,"v":630},{"t":50.82,"v":760},{"t":50.84,"v":640},{"t":50.87,"v":730},{"t":50.89,"v":650},{"t":50.92,"v":770},{"t":50.94,"v":650},{"t":50.97,"v":740},{"t":50.99,"v":660},{"t":51.02,"v":785},{"t":51.04,"v":670},{"t":51.07,"v":750},{"t":51.09,"v":670},{"t":51.12,"v":790},{"t":51.14,"v":680},{"t":51.17,"v":760},{"t":51.19,"v":690},{"t":51.22,"v":800},{"t":51.24,"v":690},{"t":51.27,"v":770},{"t":51.29,"v":700},{"t":51.32,"v":810},{"t":51.34,"v":700},{"t":51.37,"v":770},{"t":51.39,"v":710},{"t":51.42,"v":815},{"t":51.44,"v":710},{"t":51.47,"v":780},{"t":51.49,"v":720},{"t":51.52,"v":822},{"t":51.54,"v":720},{"t":51.57,"v":790},{"t":51.59,"v":730},{"t":51.62,"v":830},{"t":51.65,"v":730},{"t":51.7,"v":800},{"t":51.73,"v":740},{"t":51.77,"v":840},{"t":51.8,"v":745},{"t":51.84,"v":800},{"t":51.87,"v":750},{"t":51.91,"v":840},{"t":51.94,"v":760},{"t":51.98,"v":810},{"t":52.01,"v":765},{"t":52.05,"v":850},{"t":52.08,"v":770},{"t":52.12,"v":820},{"t":52.15,"v":775},{"t":52.19,"v":860},{"t":52.22,"v":780},{"t":52.26,"v":830},{"t":52.29,"v":785},{"t":52.33,"v":870},{"t":52.36,"v":790},{"t":52.4,"v":840},{"t":52.43,"v":795},{"t":52.47,"v":880},{"t":52.5,"v":800},{"t":52.54,"v":850},{"t":52.57,"v":805},{"t":52.61,"v":890},{"t":52.64,"v":810},{"t":52.68,"v":860},{"t":52.71,"v":815},{"t":52.75,"v":900},{"t":52.78,"v":820},{"t":52.82,"v":870},{"t":52.85,"v":820},{"t":52.89,"v":905},{"t":52.92,"v":825},{"t":52.96,"v":880},{"t":52.99,"v":830},{"t":53.03,"v":910},{"t":53.06,"v":835},{"t":53.1,"v":890},{"t":53.13,"v":835},{"t":53.17,"v":920},{"t":53.2,"v":840},{"t":53.24,"v":895},{"t":53.27,"v":840},{"t":53.31,"v":930},{"t":53.34,"v":845},{"t":53.38,"v":900},{"t":53.41,"v":845},{"t":53.45,"v":935},{"t":53.48,"v":850},{"t":53.52,"v":905},{"t":53.55,"v":850},{"t":53.59,"v":945},{"t":53.62,"v":855},{"t":53.66,"v":910},{"t":53.69,"v":855},{"t":53.73,"v":960},{"t":53.76,"v":860},{"t":53.8,"v":915},{"t":53.83,"v":860},{"t":53.87,"v":965},{"t":53.9,"v":860},{"t":53.94,"v":920},{"t":53.97,"v":855},{"t":54.01,"v":955},{"t":54.04,"v":850},{"t":54.08,"v":910},{"t":54.11,"v":840},{"t":54.15,"v":935},{"t":54.18,"v":830},{"t":54.22,"v":900},{"t":54.25,"v":820},{"t":54.29,"v":920},{"t":54.32,"v":810},{"t":54.36,"v":885},{"t":54.39,"v":800},{"t":54.43,"v":900},{"t":54.46,"v":790},{"t":54.5,"v":860},{"t":54.53,"v":780},{"t":54.57,"v":870},{"t":54.6,"v":770},{"t":54.64,"v":840},{"t":54.67,"v":760},{"t":54.71,"v":850},{"t":54.74,"v":750},{"t":54.78,"v":820},{"t":54.81,"v":745},{"t":54.85,"v":830},{"t":54.88,"v":740},{"t":54.92,"v":790},{"t":54.95,"v":735},{"t":55.0,"v":770}]
},
"vconcat": [
{
"width": 727, "height": 175,
"resolve": {"axis": {"x": "independent", "y": "independent"}},
"layer": [
{"data": {"name": "n1r"}, "mark": {"type": "line", "color": "#ff3300", "strokeWidth": 2.5, "clip": true},
 "encoding": {
  "x": {"field": "t", "type": "quantitative", "scale": {"domain": [48.5, 55], "nice": false, "zero": false},
   "axis": {"orient": "bottom", "values": [48.5,48.6,48.7,48.8,48.9,49,49.1,49.2,49.3,49.4,49.5,49.6,49.7,49.8,49.9,50,50.1,50.2,50.3,50.4,50.5,50.6,50.7,50.8,50.9,51,51.1,51.2,51.3,51.4,51.5,51.6,51.7,51.8,51.9,52,52.1,52.2,52.3,52.4,52.5,52.6,52.7,52.8,52.9,53,53.1,53.2,53.3,53.4,53.5,53.6,53.7,53.8,53.9,54,54.1,54.2,54.3,54.4,54.5,54.6,54.7,54.8,54.9,55], "labels": false, "title": null,
    "tickSize": {"condition": {"test": "abs(datum.value - round(datum.value)) < 0.01", "value": -10}, "value": -4}}},
  "y": {"field": "v", "type": "quantitative", "scale": {"domain": [0, 27.2], "nice": false, "zero": false},
   "axis": {"orient": "left", "values": [0,5,10,15,20,25], "tickSize": -13, "labelPadding": 30, "title": "(MW)", "titlePadding": 22, "minExtent": 64, "maxExtent": 64}}
 }},
{"data": {"name": "n1b"}, "mark": {"type": "line", "color": "#1f3cff", "strokeWidth": 2.5, "clip": true},
 "encoding": {"x": {"field": "t", "type": "quantitative", "axis": null}, "y": {"field": "v", "type": "quantitative", "axis": null}}},
{"data": {"name": "i1r"}, "mark": {"type": "line", "color": "#ff3300", "strokeWidth": 2.5, "clip": true},
 "encoding": {"x": {"field": "t", "type": "quantitative", "axis": null}, "y": {"field": "v", "type": "quantitative", "axis": null}}},
{"data": {"name": "i1b"}, "mark": {"type": "line", "color": "#1f3cff", "strokeWidth": 2.5, "clip": true},
 "encoding": {"x": {"field": "t", "type": "quantitative", "axis": null}, "y": {"field": "v", "type": "quantitative", "axis": null}}},
{"data": {"values": [{}]}, "mark": {"type": "text", "align": "left", "baseline": "alphabetic", "font": "DejaVu Sans", "fontSize": 22, "color": "black"},
 "encoding": {"x": {"datum": 48.61, "type": "quantitative", "axis": null}, "y": {"datum": 21.4, "type": "quantitative", "axis": null}, "text": {"value": "NBI power"}}},
{"data": {"values": [{}]}, "mark": {"type": "text", "align": "left", "baseline": "alphabetic", "font": "DejaVu Sans", "fontSize": 22, "color": "black"},
 "encoding": {"x": {"datum": 51.85, "type": "quantitative", "axis": null}, "y": {"datum": 7.4, "type": "quantitative", "axis": null}, "text": {"value": "ICRH power"}}},
{"data": {"name": "i1b"}, "mark": {"type": "point", "opacity": 0},
 "encoding": {
  "x": {"field": "t", "type": "quantitative", "axis": {"orient": "top", "values": [48.5,48.6,48.7,48.8,48.9,49,49.1,49.2,49.3,49.4,49.5,49.6,49.7,49.8,49.9,50,50.1,50.2,50.3,50.4,50.5,50.6,50.7,50.8,50.9,51,51.1,51.2,51.3,51.4,51.5,51.6,51.7,51.8,51.9,52,52.1,52.2,52.3,52.4,52.5,52.6,52.7,52.8,52.9,53,53.1,53.2,53.3,53.4,53.5,53.6,53.7,53.8,53.9,54,54.1,54.2,54.3,54.4,54.5,54.6,54.7,54.8,54.9,55], "labels": false, "title": null, "tickSize": {"condition": {"test": "abs(datum.value - round(datum.value)) < 0.01", "value": -10}, "value": -4}}},
  "y": {"field": "v", "type": "quantitative", "axis": {"orient": "right", "values": [0,5,10,15,20,25], "labels": false, "title": null, "tickSize": -13}}
 }}
]
},
{
"width": 727, "height": 175,
"resolve": {"axis": {"x": "independent", "y": "independent"}},
"layer": [
{"data": {"name": "r2r"}, "mark": {"type": "line", "color": "#ff3300", "strokeWidth": 2.5, "clip": true},
 "encoding": {
  "x": {"field": "t", "type": "quantitative", "scale": {"domain": [48.5, 55], "nice": false, "zero": false},
   "axis": {"orient": "bottom", "values": [48.5,48.6,48.7,48.8,48.9,49,49.1,49.2,49.3,49.4,49.5,49.6,49.7,49.8,49.9,50,50.1,50.2,50.3,50.4,50.5,50.6,50.7,50.8,50.9,51,51.1,51.2,51.3,51.4,51.5,51.6,51.7,51.8,51.9,52,52.1,52.2,52.3,52.4,52.5,52.6,52.7,52.8,52.9,53,53.1,53.2,53.3,53.4,53.5,53.6,53.7,53.8,53.9,54,54.1,54.2,54.3,54.4,54.5,54.6,54.7,54.8,54.9,55], "labels": false, "title": null,
    "tickSize": {"condition": {"test": "abs(datum.value - round(datum.value)) < 0.01", "value": -10}, "value": -4}}},
  "y": {"field": "v", "type": "quantitative", "scale": {"domain": [0, 16.75], "nice": false, "zero": false},
   "axis": {"orient": "left", "values": [0,5,10,15], "tickSize": -13, "labelPadding": 30, "title": "(MW)", "titlePadding": 22, "minExtent": 64, "maxExtent": 64}}
 }},
{"data": {"name": "r2b"}, "mark": {"type": "line", "color": "#1f3cff", "strokeWidth": 2.5, "clip": true},
 "encoding": {"x": {"field": "t", "type": "quantitative", "axis": null}, "y": {"field": "v", "type": "quantitative", "axis": null}}},
{"data": {"values": [{}]}, "mark": {"type": "text", "align": "left", "baseline": "alphabetic", "font": "DejaVu Sans", "fontSize": 22, "color": "black"},
 "encoding": {"x": {"datum": 48.7, "type": "quantitative", "axis": null}, "y": {"datum": 13.05, "type": "quantitative", "axis": null}, "text": {"value": "Radiated power"}}},
{"data": {"name": "r2b"}, "mark": {"type": "point", "opacity": 0},
 "encoding": {
  "x": {"field": "t", "type": "quantitative", "axis": {"orient": "top", "values": [48.5,48.6,48.7,48.8,48.9,49,49.1,49.2,49.3,49.4,49.5,49.6,49.7,49.8,49.9,50,50.1,50.2,50.3,50.4,50.5,50.6,50.7,50.8,50.9,51,51.1,51.2,51.3,51.4,51.5,51.6,51.7,51.8,51.9,52,52.1,52.2,52.3,52.4,52.5,52.6,52.7,52.8,52.9,53,53.1,53.2,53.3,53.4,53.5,53.6,53.7,53.8,53.9,54,54.1,54.2,54.3,54.4,54.5,54.6,54.7,54.8,54.9,55], "labels": false, "title": null, "tickSize": {"condition": {"test": "abs(datum.value - round(datum.value)) < 0.01", "value": -10}, "value": -4}}},
  "y": {"field": "v", "type": "quantitative", "axis": {"orient": "right", "values": [0,5,10,15], "labels": false, "title": null, "tickSize": -13}}
 }}
]
},
{
"width": 727, "height": 174,
"resolve": {"axis": {"x": "independent", "y": "independent"}},
"layer": [
{"data": {"name": "s3r"}, "mark": {"type": "line", "color": "#ff3300", "strokeWidth": 2.5, "clip": true},
 "encoding": {
  "x": {"field": "t", "type": "quantitative", "scale": {"domain": [48.5, 55], "nice": false, "zero": false},
   "axis": {"orient": "bottom", "values": [48.5,48.6,48.7,48.8,48.9,49,49.1,49.2,49.3,49.4,49.5,49.6,49.7,49.8,49.9,50,50.1,50.2,50.3,50.4,50.5,50.6,50.7,50.8,50.9,51,51.1,51.2,51.3,51.4,51.5,51.6,51.7,51.8,51.9,52,52.1,52.2,52.3,52.4,52.5,52.6,52.7,52.8,52.9,53,53.1,53.2,53.3,53.4,53.5,53.6,53.7,53.8,53.9,54,54.1,54.2,54.3,54.4,54.5,54.6,54.7,54.8,54.9,55], "labels": false, "title": null,
    "tickSize": {"condition": {"test": "abs(datum.value - round(datum.value)) < 0.01", "value": -10}, "value": -4}}},
  "y": {"field": "v", "type": "quantitative", "scale": {"domain": [0, 6], "nice": false, "zero": false},
   "axis": {"orient": "left", "values": [0,1,2,3,4,5], "labelExpr": "datum.value % 2 === 0 ? datum.label : ''", "tickSize": -13, "labelPadding": 30, "title": "(MJ)", "titlePadding": 22, "minExtent": 64, "maxExtent": 64}}
 }},
{"data": {"name": "s3b"}, "mark": {"type": "line", "color": "#1f3cff", "strokeWidth": 2.5, "clip": true},
 "encoding": {"x": {"field": "t", "type": "quantitative", "axis": null}, "y": {"field": "v", "type": "quantitative", "axis": null}}},
{"data": {"values": [{}]}, "mark": {"type": "text", "align": "left", "baseline": "alphabetic", "font": "DejaVu Sans", "fontSize": 22, "color": "black"},
 "encoding": {"x": {"datum": 48.665, "type": "quantitative", "axis": null}, "y": {"datum": 4.89, "type": "quantitative", "axis": null}, "text": {"value": "Stored Energy"}}},
{"data": {"name": "s3b"}, "mark": {"type": "point", "opacity": 0},
 "encoding": {
  "x": {"field": "t", "type": "quantitative", "axis": {"orient": "top", "values": [48.5,48.6,48.7,48.8,48.9,49,49.1,49.2,49.3,49.4,49.5,49.6,49.7,49.8,49.9,50,50.1,50.2,50.3,50.4,50.5,50.6,50.7,50.8,50.9,51,51.1,51.2,51.3,51.4,51.5,51.6,51.7,51.8,51.9,52,52.1,52.2,52.3,52.4,52.5,52.6,52.7,52.8,52.9,53,53.1,53.2,53.3,53.4,53.5,53.6,53.7,53.8,53.9,54,54.1,54.2,54.3,54.4,54.5,54.6,54.7,54.8,54.9,55], "labels": false, "title": null, "tickSize": {"condition": {"test": "abs(datum.value - round(datum.value)) < 0.01", "value": -10}, "value": -4}}},
  "y": {"field": "v", "type": "quantitative", "axis": {"orient": "right", "values": [0,1,2,3,4,5], "labels": false, "title": null, "tickSize": -13}}
 }}
]
},
{
"width": 727, "height": 151,
"resolve": {"axis": {"x": "independent", "y": "independent"}},
"layer": [
{"data": {"name": "t4r"}, "mark": {"type": "line", "color": "#ff3300", "strokeWidth": 2.5, "clip": true},
 "encoding": {
  "x": {"field": "t", "type": "quantitative", "scale": {"domain": [48.5, 55], "nice": false, "zero": false},
   "axis": {"orient": "bottom", "values": [48.5,48.6,48.7,48.8,48.9,49,49.1,49.2,49.3,49.4,49.5,49.6,49.7,49.8,49.9,50,50.1,50.2,50.3,50.4,50.5,50.6,50.7,50.8,50.9,51,51.1,51.2,51.3,51.4,51.5,51.6,51.7,51.8,51.9,52,52.1,52.2,52.3,52.4,52.5,52.6,52.7,52.8,52.9,53,53.1,53.2,53.3,53.4,53.5,53.6,53.7,53.8,53.9,54,54.1,54.2,54.3,54.4,54.5,54.6,54.7,54.8,54.9,55],
    "labelExpr": "(abs(datum.value - round(datum.value)) < 0.01 && datum.value > 48.9 && datum.value < 54.9) ? format(datum.value, 'd') : ''",
    "labelPadding": 26, "title": "time (s)", "titlePadding": 6, "titleX": 348,
    "tickSize": {"condition": {"test": "abs(datum.value - round(datum.value)) < 0.01", "value": -10}, "value": -4}}},
  "y": {"field": "v", "type": "quantitative", "scale": {"domain": [0, 1115], "nice": false, "zero": false},
   "axis": {"orient": "left", "values": [0,200,400,600,800,1000], "labelExpr": "datum.value % 400 === 0 ? datum.label : ''", "tickSize": -13, "labelPadding": 30, "title": "(deg C)", "titlePadding": 22, "minExtent": 64, "maxExtent": 64}}
 }},
{"data": {"name": "t4b"}, "mark": {"type": "line", "color": "#1f3cff", "strokeWidth": 2.5, "clip": true},
 "encoding": {"x": {"field": "t", "type": "quantitative", "axis": null}, "y": {"field": "v", "type": "quantitative", "axis": null}}},
{"data": {"values": [{}]}, "mark": {"type": "text", "align": "right", "baseline": "alphabetic", "font": "DejaVu Sans", "fontSize": 22, "color": "black"},
 "encoding": {"x": {"datum": 54.78, "type": "quantitative", "axis": null}, "y": {"datum": 143, "type": "quantitative", "axis": null}, "text": {"value": "vertical divertor surface temperature ( Tile 7 )"}}},
{"data": {"name": "t4b"}, "mark": {"type": "point", "opacity": 0},
 "encoding": {
  "x": {"field": "t", "type": "quantitative", "axis": {"orient": "top", "values": [48.5,48.6,48.7,48.8,48.9,49,49.1,49.2,49.3,49.4,49.5,49.6,49.7,49.8,49.9,50,50.1,50.2,50.3,50.4,50.5,50.6,50.7,50.8,50.9,51,51.1,51.2,51.3,51.4,51.5,51.6,51.7,51.8,51.9,52,52.1,52.2,52.3,52.4,52.5,52.6,52.7,52.8,52.9,53,53.1,53.2,53.3,53.4,53.5,53.6,53.7,53.8,53.9,54,54.1,54.2,54.3,54.4,54.5,54.6,54.7,54.8,54.9,55], "labels": false, "title": null, "tickSize": {"condition": {"test": "abs(datum.value - round(datum.value)) < 0.01", "value": -10}, "value": -4}}},
  "y": {"field": "v", "type": "quantitative", "axis": {"orient": "right", "values": [0,200,400,600,800,1000], "labels": false, "title": null, "tickSize": -13}}
 }}
]
}
],
"config": {
 "font": "DejaVu Sans",
 "view": {"stroke": null},
 "axis": {"domainColor": "black", "domainWidth": 2, "tickColor": "black", "tickWidth": 1.5, "labelColor": "black", "labelFont": "DejaVu Sans", "labelFontSize": 22, "titleFont": "DejaVu Sans", "titleFontSize": 22, "titleFontWeight": "normal", "titleColor": "black", "grid": false, "zindex": 1, "labelOverlap": false, "labelBound": false, "labelFlush": false}
}
}
